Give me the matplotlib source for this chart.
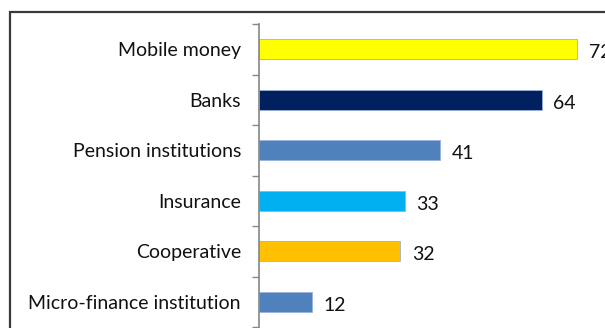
import matplotlib
matplotlib.use('Agg')
import matplotlib.pyplot as plt
from matplotlib.patches import Rectangle
import numpy as np

# Institution usage (%), top to bottom
categories = ['Mobile money', 'Banks', 'Pension institutions', 'Insurance',
              'Cooperative', 'Micro-finance institution']
values = [72, 64, 41, 33, 32, 12]
colors = ['#FFFF00', '#002060', '#4F81BD', '#00B0F0', '#FFC000', '#4F81BD']

W, H = 605, 328
fig = plt.figure(figsize=(W / 100, H / 100), dpi=100)

# chart frame, partly cut off on the right and bottom
fig.patches.append(Rectangle((10 / W, -0.1), 1.0, (H - 12) / H + 0.1,
                             transform=fig.transFigure, fill=False,
                             edgecolor='#3a3a3a', linewidth=1.6))

# axes placed in pixel terms; x range runs past the right edge
left, top, bottom = 259, 24, 327
x_max = 80
px_per_unit = 4.42
ax_w = x_max * px_per_unit
ax = fig.add_axes([left / W, (H - bottom) / H, ax_w / W, (bottom - top) / H])

y = np.arange(len(categories))
ax.barh(y, values, height=0.4, color=colors, edgecolor='#9bb3d6', linewidth=0.6)
for yi, v in zip(y, values):
    ax.text(v + 2.6, yi + 0.07, str(v), va='center', ha='left', fontsize=14,
            family='Lato', color='#111111')

ax.set_xlim(0, x_max)
ax.set_ylim(len(categories) - 0.5, -0.5)
ax.set_yticks(y)
ax.set_yticklabels(categories, fontsize=14, family='Lato', color='#111111')
ax.tick_params(axis='y', which='major', length=0, pad=13)
ax.set_yticks(np.arange(-0.5, len(categories)), minor=True)
ax.tick_params(axis='y', which='minor', length=5, color='#868686', width=1)
ax.set_xticks([])
for s in ['top', 'right', 'bottom']:
    ax.spines[s].set_visible(False)
ax.spines['left'].set_color('#868686')
ax.spines['left'].set_linewidth(1.2)

fig.savefig('out.png', dpi=100)
